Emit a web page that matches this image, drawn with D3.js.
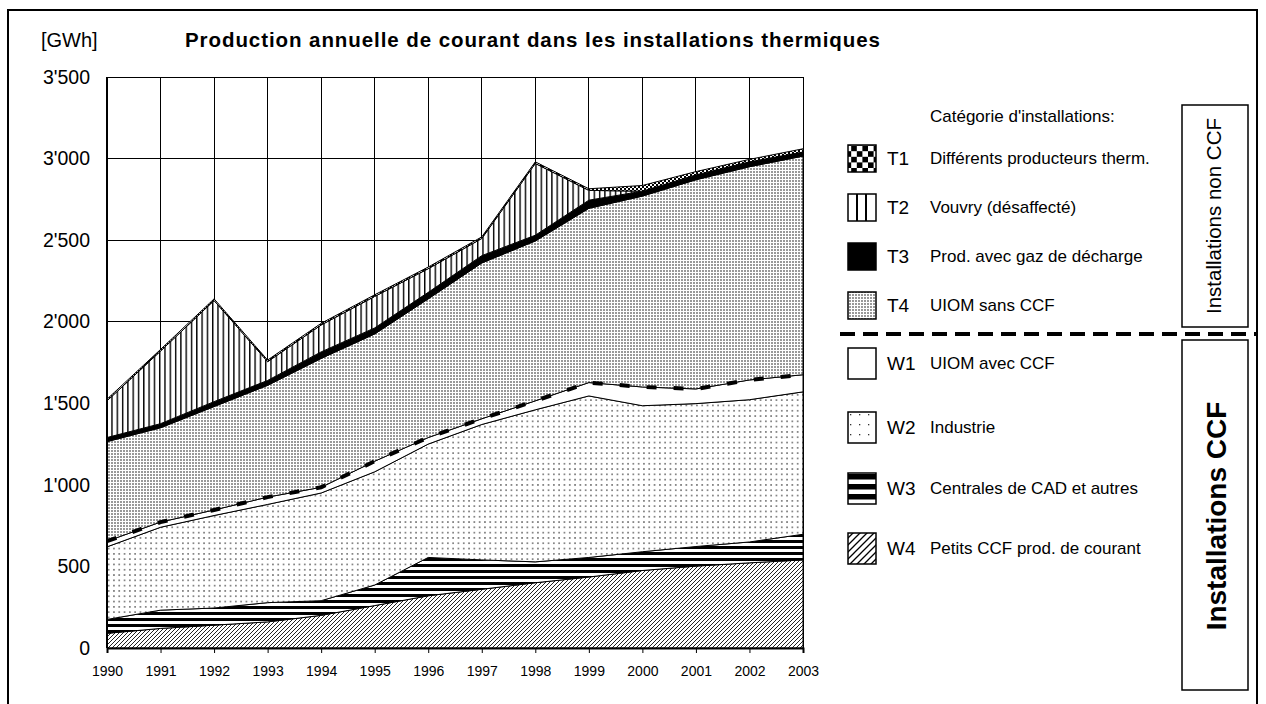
<!DOCTYPE html>
<html><head><meta charset="utf-8">
<script src="https://cdn.jsdelivr.net/npm/d3@7"></script>
<style>
body{margin:0;background:#fff}
svg{display:block}
text{font-family:"Liberation Sans",Arial,Helvetica,sans-serif;fill:#000}
</style>
</head><body>
<svg id="chart" width="1266" height="704"></svg>
<script>
// ---------------- DATA ----------------
const years = [1990,1991,1992,1993,1994,1995,1996,1997,1998,1999,2000,2001,2002,2003];
// stacked from bottom to top
const W4 = [90,120,140,160,200,260,320,360,400,435,475,502,522,540];
const W3 = [85,112,105,118,90,126,235,180,128,120,115,120,128,157];
const W2 = [445,508,567,602,660,694,695,830,932,990,895,876,872,873];
const W1 = [35,32,34,45,35,65,40,35,55,82,115,90,121,105];
const T4 = [610,578,634,685,790,780,850,955,980,1068,1170,1282,1307,1340];
const T3 = [25,25,30,30,40,37,40,45,35,50,30,30,30,25];
const T2 = [225,445,620,115,165,193,145,105,440,60,0,0,0,0];
const T1 = [10,10,10,10,10,10,10,10,10,10,35,20,15,20];
const yTicks = [0,500,1000,1500,2000,2500,3000,3500];
const yTickLabels = ["0","500","1'000","1'500","2'000","2'500","3'000","3'500"];
const seriesKeys = ["W4","W3","W2","W1","T4","T3","T2","T1"];
const legendCodesT = ["T1","T2","T3","T4"];
const legendNamesT = ["Différents producteurs therm.","Vouvry (désaffecté)","Prod. avec gaz de décharge","UIOM sans CCF"];
const legendCodesW = ["W1","W2","W3","W4"];
const legendNamesW = ["UIOM avec CCF","Industrie","Centrales de CAD et autres","Petits CCF prod. de courant"];
const titleText = "Production annuelle de courant dans les installations thermiques";
const unitText = "[GWh]";
const legendTitle = "Catégorie d'installations:";

// ---------------- SETUP ----------------
const svg = d3.select("#chart");
const M = {left:107, right:803, top:77, bottom:648};
const x = d3.scaleLinear().domain([1990,2003]).range([M.left,M.right]);
const y = d3.scaleLinear().domain([0,3500]).range([M.bottom,M.top]);
const FONT = '"Liberation Sans",Arial,sans-serif';

const defs = svg.append("defs");
function pat(id,w,h,draw){
  const p = defs.append("pattern").attr("id",id).attr("patternUnits","userSpaceOnUse")
    .attr("width",w).attr("height",h);
  p.append("rect").attr("width",w).attr("height",h).attr("fill","#fff");
  draw(p);
}
// plot patterns
pat("pW4",4,4,p=>p.append("path").attr("d","M-1,1L1,-1M0,4L4,0M3,5L5,3").attr("stroke","#222").attr("stroke-width",1));
pat("pW3",1,6,p=>p.append("rect").attr("y",0).attr("width",1).attr("height",3).attr("fill","#000"));
pat("pW2",5.3,5.3,p=>p.append("rect").attr("x",2).attr("y",2).attr("width",1.3).attr("height",1.3).attr("fill","#222"));
pat("pT4",3,3,p=>p.append("rect").attr("width",2).attr("height",2).attr("fill","#999"));
pat("pT2",5.3,5,p=>p.append("rect").attr("x",0).attr("width",1.4).attr("height",5).attr("fill","#000"));
pat("pT1",4,4,p=>{p.append("rect").attr("width",2).attr("height",2).attr("fill","#000");p.append("rect").attr("x",2).attr("y",2).attr("width",2).attr("height",2).attr("fill","#000");});
// legend patterns
pat("lT1",11.2,11.2,p=>{p.append("rect").attr("width",5.6).attr("height",5.6).attr("fill","#000");p.append("rect").attr("x",5.6).attr("y",5.6).attr("width",5.6).attr("height",5.6).attr("fill","#000");});
pat("lW2",9,10,p=>p.append("rect").attr("x",4).attr("y",4).attr("width",1.3).attr("height",1.3).attr("fill","#333"));
pat("lW4",7,7,p=>p.append("path").attr("d","M-2,2L2,-2M0,7L7,0M5,9L9,5").attr("stroke","#000").attr("stroke-width",1.3));

const fills = {W4:"url(#pW4)",W3:"url(#pW3)",W2:"url(#pW2)",W1:"#fff",T4:"url(#pT4)",T3:"#000",T2:"url(#pT2)",T1:"url(#pT1)"};
const dataRows = years.map((yr,i)=>({year:yr,W4:W4[i],W3:W3[i],W2:W2[i],W1:W1[i],T4:T4[i],T3:T3[i],T2:T2[i],T1:T1[i]}));
const stack = d3.stack().keys(seriesKeys)(dataRows);

// outer frame
svg.append("rect").attr("x",8).attr("y",10).attr("width",1249).attr("height",710)
  .attr("fill","none").attr("stroke","#000").attr("stroke-width",2);

// grid
const g = svg.append("g");
g.selectAll("line.vg").data(years).join("line")
  .attr("x1",d=>x(d)).attr("x2",d=>x(d)).attr("y1",M.top).attr("y2",M.bottom)
  .attr("stroke","#000").attr("stroke-width",1).attr("shape-rendering","crispEdges");
g.selectAll("line.hg").data(yTicks).join("line")
  .attr("x1",M.left).attr("x2",M.right).attr("y1",d=>y(d)).attr("y2",d=>y(d))
  .attr("stroke","#000").attr("stroke-width",1).attr("shape-rendering","crispEdges");

// areas
const area = d3.area().x(d=>x(d.data.year)).y0(d=>y(d[0])).y1(d=>y(d[1]));
svg.append("g").selectAll("path").data(stack).join("path")
  .attr("d",area).attr("fill",d=>fills[d.key]).attr("stroke","#000").attr("stroke-width",1);

// dashed separation line along W1 top
const w1 = stack.find(s=>s.key==="W1");
svg.append("path").attr("d",d3.line().x(d=>x(d.data.year)).y(d=>y(d[1]))(w1))
  .attr("fill","none").attr("stroke","#000").attr("stroke-width",4).attr("stroke-dasharray","10,17");

// axes
svg.append("line").attr("x1",M.left).attr("x2",M.left).attr("y1",M.top).attr("y2",M.bottom).attr("stroke","#000").attr("stroke-width",2);
const xAxis = d3.axisBottom(x).tickValues(years).tickFormat(d3.format("d")).tickSize(5).tickPadding(13);
const xa = svg.append("g").attr("transform",`translate(0,${M.bottom})`).call(xAxis);
xa.attr("font-size",null).attr("font-family",null);
xa.select(".domain").attr("stroke-width",2);
xa.selectAll("text").style("font-size","14px").style("font-family",FONT);
const yAxis = d3.axisLeft(y).tickValues(yTicks).tickFormat((d,i)=>yTickLabels[i]).tickSize(0).tickPadding(17);
const ya = svg.append("g").attr("transform",`translate(${M.left},0)`).call(yAxis);
ya.attr("font-size",null).attr("font-family",null);
ya.select(".domain").remove();
ya.selectAll("text").style("font-size","19.5px").style("font-family",FONT);

// titles
svg.append("text").attr("x",41).attr("y",47).attr("font-size",20).text(unitText);
svg.append("text").attr("x",185).attr("y",47).attr("font-size",20.5).attr("font-weight","bold")
  .attr("textLength",695).attr("lengthAdjust","spacing").text(titleText);

// legend
const L = svg.append("g");
L.append("text").attr("x",930).attr("y",122).attr("font-size",17).text(legendTitle);
const tY = [158,207,256,305];
const tFill = ["url(#lT1)","#fff","#000","url(#pT4)"];
legendCodesT.forEach((c,i)=>{
  const sy = tY[i]-13;
  L.append("rect").attr("x",848).attr("y",sy).attr("width",28).attr("height",27).attr("fill",tFill[i]).attr("stroke","#000").attr("stroke-width",1.5);
  if(c==="T2"){ [857,866].forEach(xx=>L.append("line").attr("x1",xx).attr("x2",xx).attr("y1",sy).attr("y2",sy+27).attr("stroke","#000").attr("stroke-width",2)); }
  L.append("text").attr("x",887).attr("y",tY[i]+7).attr("font-size",19).text(c);
  L.append("text").attr("x",930).attr("y",tY[i]+6).attr("font-size",17).text(legendNamesT[i]);
});
const wY = [363,427,488,548];
const wFill = ["#fff","url(#lW2)","#fff","url(#lW4)"];
legendCodesW.forEach((c,i)=>{
  const sy = wY[i]-15;
  L.append("rect").attr("x",848).attr("y",sy).attr("width",28).attr("height",31).attr("fill",wFill[i]).attr("stroke","#000").attr("stroke-width",1.5);
  if(c==="W3"){ [0,10,20].forEach(o=>L.append("rect").attr("x",848).attr("y",sy+o+1).attr("width",28).attr("height",5.5).attr("fill","#000")); }
  L.append("text").attr("x",887).attr("y",wY[i]+7).attr("font-size",19).text(c);
  L.append("text").attr("x",930).attr("y",wY[i]+6).attr("font-size",17).text(legendNamesW[i]);
});
// separator
svg.append("line").attr("x1",840).attr("x2",1256).attr("y1",334).attr("y2",334)
  .attr("stroke","#000").attr("stroke-width",4).attr("stroke-dasharray","15,8");

// side boxes
svg.append("rect").attr("x",1182).attr("y",105).attr("width",66).attr("height",222).attr("fill","#fff").attr("stroke","#000").attr("stroke-width",1.5);
svg.append("rect").attr("x",1182).attr("y",340).attr("width",66).attr("height",350).attr("fill","#fff").attr("stroke","#000").attr("stroke-width",1.5);
svg.append("text").attr("transform","translate(1221,216) rotate(-90)").attr("text-anchor","middle").attr("font-size",20.5).text("Installations non CCF");
svg.append("text").attr("transform","translate(1226,516) rotate(-90)").attr("text-anchor","middle").attr("font-size",28).attr("font-weight","bold").text("Installations CCF");
</script>
</body></html>
